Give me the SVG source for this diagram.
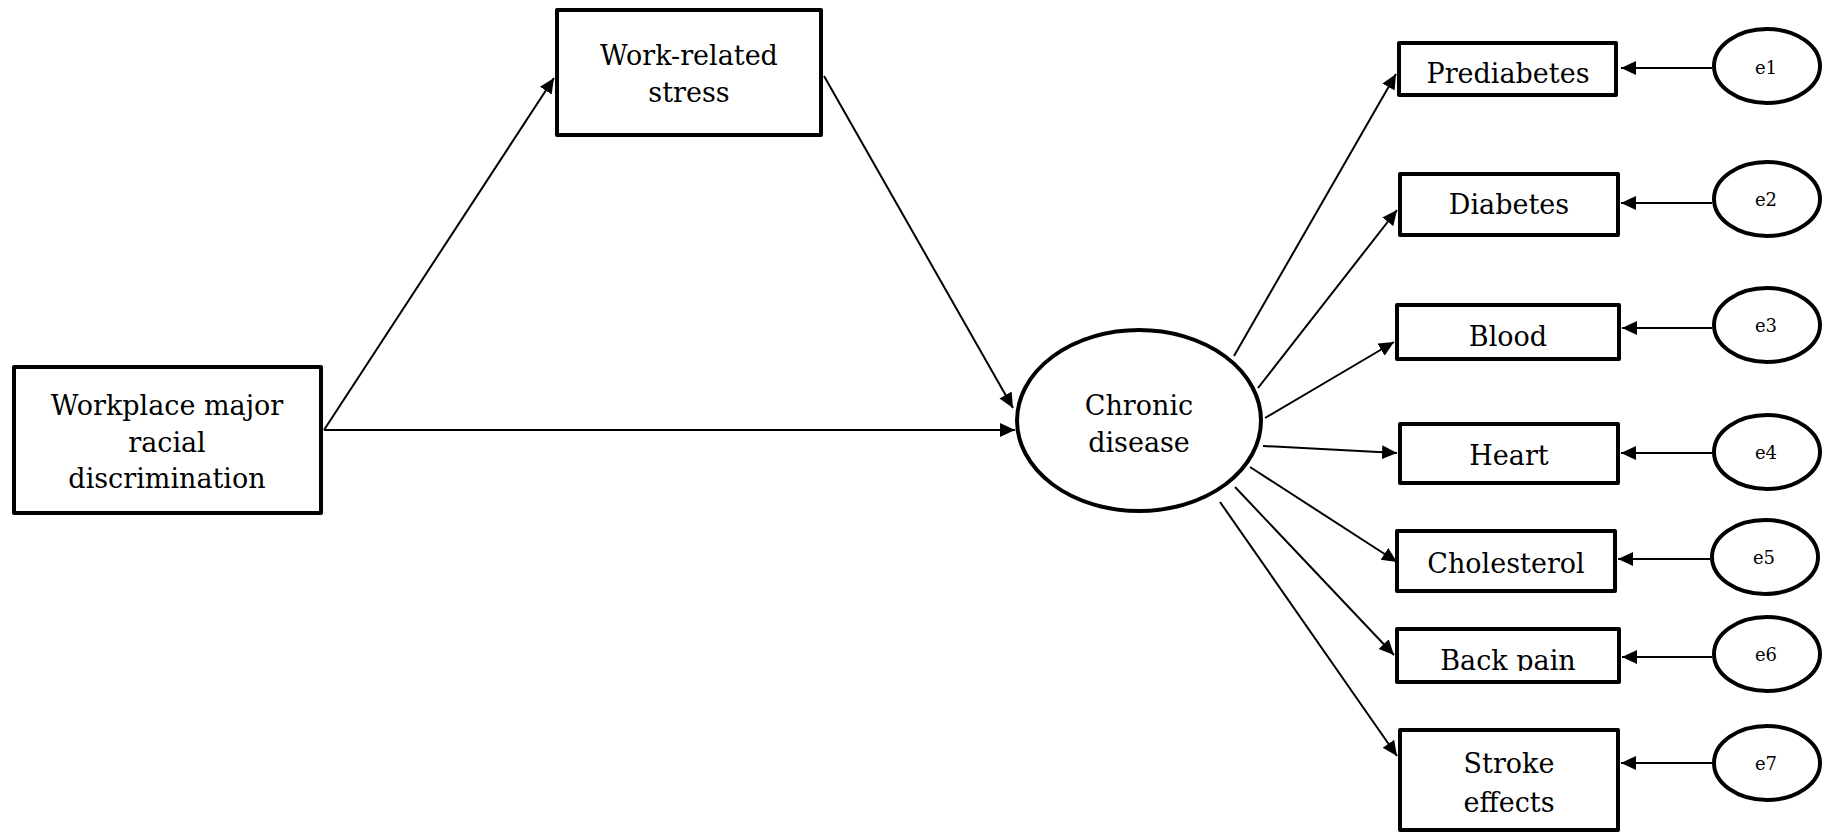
<svg xmlns="http://www.w3.org/2000/svg" width="1833" height="833" viewBox="0 0 1833 833">
  <style>
    .box { fill: #fff; stroke: #000; stroke-width: 4; stroke-linejoin: round; }
    .lat { fill: #fff; stroke: #000; stroke-width: 4; }
    .lbl { font-family: "DejaVu Serif", "Liberation Serif", serif; font-size: 27px; fill: #000; text-anchor: middle; }
    .err { font-family: "DejaVu Serif", "Liberation Serif", serif; font-size: 18px; fill: #000; text-anchor: middle; }
    .edge { stroke: #000; stroke-width: 2; fill: none; marker-end: url(#arrow); }
  </style>
  <defs>
    <marker id="arrow" markerUnits="userSpaceOnUse" markerWidth="16" markerHeight="15" refX="15" refY="7" orient="auto">
      <path d="M0,0 L15,7 L0,14 Z" fill="#000"/>
    </marker>
    <clipPath id="clipBack">
      <rect x="1397" y="629" width="222" height="42"/>
    </clipPath>
  </defs>
  <rect width="1833" height="833" fill="#fff"/>

  <!-- paths between nodes -->
  <g id="connectors">
    <line class="edge" x1="324" y1="430" x2="554" y2="78"/>
    <line class="edge" x1="824" y1="76" x2="1013" y2="408"/>
    <line class="edge" x1="324" y1="430" x2="1015" y2="430"/>
    <line class="edge" x1="1234" y1="356" x2="1396" y2="74"/>
    <line class="edge" x1="1258" y1="388" x2="1397" y2="210"/>
    <line class="edge" x1="1265" y1="418" x2="1394" y2="342"/>
    <line class="edge" x1="1263" y1="446" x2="1397" y2="453"/>
    <line class="edge" x1="1250" y1="467" x2="1397" y2="562"/>
    <line class="edge" x1="1235" y1="487" x2="1394" y2="655"/>
    <line class="edge" x1="1220" y1="502" x2="1397" y2="756"/>
    <line class="edge" x1="1712" y1="68" x2="1621" y2="68"/>
    <line class="edge" x1="1712" y1="203" x2="1621" y2="203"/>
    <line class="edge" x1="1712" y1="328" x2="1622" y2="328"/>
    <line class="edge" x1="1712" y1="453" x2="1621" y2="453"/>
    <line class="edge" x1="1710" y1="559" x2="1618" y2="559"/>
    <line class="edge" x1="1712" y1="657" x2="1622" y2="657"/>
    <line class="edge" x1="1712" y1="763" x2="1621" y2="763"/>
  </g>

  <g id="workplace">
    <rect class="box" x="14" y="367" width="307" height="146"/>
    <text class="lbl" x="167" y="415">Workplace major</text>
    <text class="lbl" x="167" y="452">racial</text>
    <text class="lbl" x="167" y="488">discrimination</text>
  </g>

  <g id="stress">
    <rect class="box" x="557" y="10" width="264" height="125"/>
    <text class="lbl" x="689" y="65">Work-related</text>
    <text class="lbl" x="689" y="102">stress</text>
  </g>

  <g id="chronic">
    <ellipse class="lat" cx="1139" cy="420.5" rx="122" ry="90.5"/>
    <text class="lbl" x="1139" y="415">Chronic</text>
    <text class="lbl" x="1139" y="452">disease</text>
  </g>

  <g id="prediabetes">
    <rect class="box" x="1399" y="43" width="217" height="52"/>
    <text class="lbl" x="1508" y="83">Prediabetes</text>
  </g>
  <g id="diabetes">
    <rect class="box" x="1400" y="174" width="218" height="61"/>
    <text class="lbl" x="1509" y="214">Diabetes</text>
  </g>
  <g id="blood">
    <rect class="box" x="1397" y="305" width="222" height="54"/>
    <text class="lbl" x="1508" y="346">Blood</text>
  </g>
  <g id="heart">
    <rect class="box" x="1400" y="424" width="218" height="59"/>
    <text class="lbl" x="1509" y="465">Heart</text>
  </g>
  <g id="cholesterol">
    <rect class="box" x="1397" y="531" width="218" height="60"/>
    <text class="lbl" x="1506" y="573">Cholesterol</text>
  </g>
  <g id="backpain">
    <rect class="box" x="1397" y="629" width="222" height="53"/>
    <text class="lbl" x="1508" y="670" clip-path="url(#clipBack)">Back pain</text>
  </g>
  <g id="stroke">
    <rect class="box" x="1400" y="730" width="218" height="100"/>
    <text class="lbl" x="1509" y="773">Stroke</text>
    <text class="lbl" x="1509" y="812">effects</text>
  </g>

  <g id="e1"><ellipse class="lat" cx="1767" cy="66" rx="53" ry="37"/><text class="err" x="1766" y="74">e1</text></g>
  <g id="e2"><ellipse class="lat" cx="1767" cy="199" rx="53" ry="37"/><text class="err" x="1766" y="206">e2</text></g>
  <g id="e3"><ellipse class="lat" cx="1767" cy="325" rx="53" ry="37"/><text class="err" x="1766" y="332">e3</text></g>
  <g id="e4"><ellipse class="lat" cx="1767" cy="452" rx="53" ry="37"/><text class="err" x="1766" y="459">e4</text></g>
  <g id="e5"><ellipse class="lat" cx="1765" cy="557" rx="53" ry="37"/><text class="err" x="1764" y="564">e5</text></g>
  <g id="e6"><ellipse class="lat" cx="1767" cy="654" rx="53" ry="37"/><text class="err" x="1766" y="661">e6</text></g>
  <g id="e7"><ellipse class="lat" cx="1767" cy="763" rx="53" ry="37"/><text class="err" x="1766" y="770">e7</text></g>
</svg>
